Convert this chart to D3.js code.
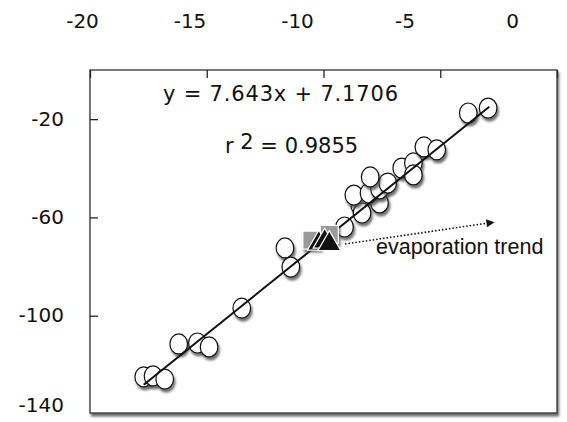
<!DOCTYPE html>
<html>
<head>
<meta charset="utf-8">
<script src="https://cdn.jsdelivr.net/npm/d3@7"></script>
<style>
  body { margin: 0; background: #fff; }
  svg { display: block; }
</style>
</head>
<body>
<div id="chart"></div>
<script>
// sample values (x: top axis, y: left axis)
const circleX = [-17.7, -17.3, -16.8, -16.2, -15.4, -14.9, -13.5, -11.65, -11.4, -9.1,
  -8.45, -8.35, -7.6, -8.7, -8.05, -7.6, -7.25, -8.0, -6.65, -6.15, -6.15, -5.7, -5.15, -3.8, -2.95];
const circleY = [-124.9, -124.5, -125.8, -111.5, -111.1, -112.7, -96.9, -72.4, -80.2, -63.9,
  -54.9, -58.2, -54.1, -50.9, -50.1, -48.4, -46.0, -43.5, -39.9, -37.8, -42.7, -31.3, -32.5, -17.5, -15.5];
const squareX = [-10.5, -9.75];
const squareY = [-69.2, -66.9];
const triangleX = [-10.2, -9.95, -9.75];
const triangleY = [-70.6, -69.8, -70.8];

const xTicks = [-20, -15, -10, -5, 0];
const yTicks = [-20, -60, -100, -140];
const slope = 7.643;
const intercept = 7.1706;
const fitRange = [-17.7, -2.9];
const arrowFrom = [-9.08, -70.8];
const arrowTo = [-2.95, -62.3];

const width = 567;
const height = 422;
const frame = { left: 90, right: 557, top: 70, bottom: 413 };

const svg = d3.select('#chart')
  .append('svg')
  .attr('width', width)
  .attr('height', height);

const defs = svg.append('defs');
const shadow = defs.append('filter')
  .attr('id', 'shadow')
  .attr('x', '-50%').attr('y', '-50%')
  .attr('width', '200%').attr('height', '200%');
shadow.append('feDropShadow')
  .attr('dx', 1.5).attr('dy', 3)
  .attr('stdDeviation', 1.2)
  .attr('flood-color', '#444')
  .attr('flood-opacity', 0.75);

defs.append('marker')
  .attr('id', 'arrow')
  .attr('viewBox', '0 0 10 10')
  .attr('refX', 2).attr('refY', 5)
  .attr('markerWidth', 10).attr('markerHeight', 8)
  .attr('markerUnits', 'userSpaceOnUse')
  .attr('orient', 'auto')
  .append('path')
  .attr('d', 'M0,0L10,5L0,10Z')
  .attr('fill', '#111');

const x = d3.scaleLinear().domain([-20, 0]).range([frame.left, frame.right]);
const y = d3.scaleLinear().domain([-140, 0]).range([frame.bottom + 1, frame.top]);
// the top tick labels sit a bit off the tick marks in the original figure
const xLabel = d3.scaleLinear().domain([-20, 0]).range([82, 512]);
const plain = d => String(d);

// frame with a soft shadow
svg.append('rect')
  .attr('x', frame.left)
  .attr('y', frame.top)
  .attr('width', frame.right - frame.left)
  .attr('height', frame.bottom - frame.top)
  .attr('fill', '#fff')
  .attr('stroke', '#333')
  .attr('stroke-width', 1.3)
  .attr('filter', 'url(#shadow)');

// tick marks pointing into the frame
svg.append('g')
  .attr('transform', `translate(0,${frame.top})`)
  .call(d3.axisBottom(x).tickValues(xTicks).tickSize(8).tickFormat(''))
  .call(g => g.select('.domain').remove())
  .call(g => g.selectAll('line').attr('stroke', '#222').attr('stroke-width', 1.3));

svg.append('g')
  .attr('transform', `translate(${frame.left},0)`)
  .call(d3.axisRight(y).tickValues(yTicks.slice(0, 3)).tickSize(8).tickFormat(''))
  .call(g => g.select('.domain').remove())
  .call(g => g.selectAll('line').attr('stroke', '#222').attr('stroke-width', 1.3));

// tick labels
svg.append('g')
  .attr('transform', 'translate(0,34)')
  .call(d3.axisTop(xLabel).tickValues(xTicks).tickSize(0).tickPadding(6).tickFormat(plain))
  .call(g => g.select('.domain').remove())
  .call(g => g.selectAll('text')
    .attr('font-family', 'DejaVu Sans')
    .attr('font-size', 20)
    .attr('fill', '#111'));

svg.append('g')
  .attr('transform', 'translate(64,0)')
  .call(d3.axisLeft(y).tickValues(yTicks).tickSize(0).tickPadding(0).tickFormat(plain))
  .call(g => g.select('.domain').remove())
  .call(g => g.selectAll('text')
    .attr('font-family', 'DejaVu Sans')
    .attr('font-size', 20)
    .attr('fill', '#111')
    .attr('dy', d => d === -140 ? '-0.15em' : '0.3em'));

const fitLine = g => g.append('line')
  .attr('x1', x(fitRange[0]))
  .attr('y1', y(slope * fitRange[0] + intercept))
  .attr('x2', x(fitRange[1]))
  .attr('y2', y(slope * fitRange[1] + intercept))
  .attr('stroke', '#111')
  .attr('stroke-width', 2);

// samples
const circles = circleX.map((v, i) => ({ x: v, y: circleY[i] }));
svg.append('g')
  .selectAll('ellipse')
  .data(circles)
  .enter().append('ellipse')
  .attr('cx', d => x(d.x))
  .attr('cy', d => y(d.y))
  .attr('rx', 8.8)
  .attr('ry', 10)
  .attr('fill', '#fff')
  .attr('stroke', '#111')
  .attr('stroke-width', 1.2)
  .attr('filter', 'url(#shadow)');

// regression line drawn over the circles
fitLine(svg);

const squares = squareX.map((v, i) => ({ x: v, y: squareY[i] }));
svg.append('g')
  .selectAll('path')
  .data(squares)
  .enter().append('path')
  .attr('transform', d => `translate(${x(d.x)},${y(d.y)})`)
  .attr('d', d3.symbol(d3.symbolSquare, 320))
  .attr('fill', '#999')
  .attr('stroke', '#fff')
  .attr('stroke-width', 1.2)
  .attr('filter', 'url(#shadow)');

const triangles = triangleX.map((v, i) => ({ x: v, y: triangleY[i] }));
svg.append('g')
  .selectAll('path')
  .data(triangles)
  .enter().append('path')
  .attr('transform', d => `translate(${x(d.x)},${y(d.y)})`)
  .attr('d', d3.symbol(d3.symbolTriangle, 230))
  .attr('fill', '#111')
  .attr('stroke', '#fff')
  .attr('stroke-width', 1.2);

// evaporation trend arrow
svg.append('line')
  .attr('x1', x(arrowFrom[0]))
  .attr('y1', y(arrowFrom[1]))
  .attr('x2', x(arrowTo[0]))
  .attr('y2', y(arrowTo[1]))
  .attr('stroke', '#111')
  .attr('stroke-width', 1.6)
  .attr('stroke-dasharray', '1.5,2')
  .attr('marker-end', 'url(#arrow)');

svg.append('text')
  .attr('x', 376)
  .attr('y', 254)
  .attr('font-family', 'Liberation Sans')
  .attr('font-size', 21.5)
  .attr('fill', '#111')
  .text('evaporation trend');

// fit annotation
svg.append('text')
  .attr('x', 163)
  .attr('y', 101)
  .attr('font-family', 'DejaVu Sans')
  .attr('font-size', 21)
  .attr('fill', '#111')
  .attr('textLength', 235)
  .attr('lengthAdjust', 'spacing')
  .text('y = 7.643x + 7.1706');

const r2 = svg.append('text')
  .attr('x', 225)
  .attr('y', 153)
  .attr('font-family', 'DejaVu Sans')
  .attr('font-size', 21)
  .attr('fill', '#111');
r2.append('tspan').text('r ');
r2.append('tspan').attr('dy', -4).text('2');
r2.append('tspan').attr('dy', 4).text(' = 0.9855');
</script>
</body>
</html>
